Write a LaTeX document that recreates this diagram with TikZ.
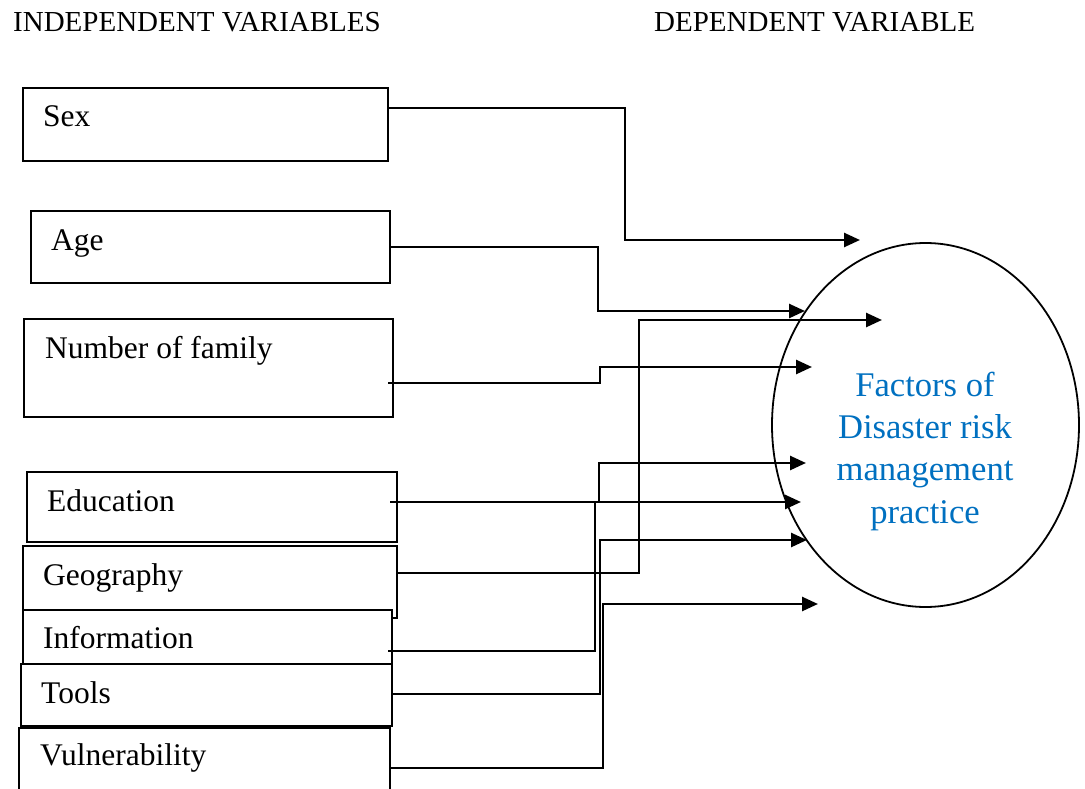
\documentclass[tikz,border=0pt]{standalone}
\usepackage{fontspec}
\setmainfont{Liberation Serif}
\usetikzlibrary{shapes.geometric,arrows.meta}
\definecolor{dvblue}{RGB}{0,112,192}
\tikzset{
  box/.style={draw=black, line width=1.8pt, fill=white, rectangle, anchor=north west, inner sep=0pt},
  lbl/.style={anchor=base west, inner sep=0pt, font=\fontsize{31.5}{36}\selectfont},
  head/.style={anchor=base west, inner sep=0pt, font=\fontsize{29}{33}\selectfont},
  dvtext/.style={anchor=base, inner sep=0pt, text=dvblue, font=\fontsize{34.6}{40}\selectfont},
  conn/.style={line width=2.6pt, -{Triangle[length=16pt,width=14pt]}},
  ell/.style={draw=black, line width=1.8pt, ellipse, minimum width=307pt, minimum height=364pt, inner sep=0pt}
}
\begin{document}
\begin{tikzpicture}[x=1pt,y=-1pt]
\useasboundingbox (0,0) rectangle (1085,789);
\clip (0,0) rectangle (1085,789);

% headings
\node[head] (hind) at (13,32) {INDEPENDENT VARIABLES};
\node[head] (hdep) at (654,32) {DEPENDENT VARIABLE};

% ellipse
\node[ell] (dv) at (925.5,425) {};
\node[dvtext] (dv1) at (925,396) {Factors of};
\node[dvtext] (dv2) at (925,438) {Disaster risk};
\node[dvtext] (dv3) at (925,480) {management};
\node[dvtext] (dv4) at (925,523) {practice};

% boxes
\node[box, minimum width=365pt, minimum height=73pt] (sex) at (22,87) {};
\node[lbl] (sext) at (43,127) {Sex};
\node[box, minimum width=359pt, minimum height=72pt] (age) at (30,210) {};
\node[lbl] (aget) at (51,250) {Age};
\node[box, minimum width=369pt, minimum height=98pt] (num) at (23,318) {};
\node[lbl] (numt) at (45,358) {Number of family};
\node[box, minimum width=370pt, minimum height=70pt] (edu) at (26,471) {};
\node[lbl] (edut) at (47,511) {Education};
\node[box, minimum width=374pt, minimum height=72pt] (geo) at (22,545) {};
\node[lbl] (geot) at (43,585) {Geography};
\node[box, minimum width=369pt, minimum height=64pt] (inf) at (22,609) {};
\node[lbl] (inft) at (43,648) {Information};
\node[box, minimum width=371pt, minimum height=62pt] (tools) at (20,663) {};
\node[lbl] (toolst) at (41,703) {Tools};
\node[box, minimum width=371pt, minimum height=90pt] (vul) at (18,727) {};
\node[lbl] (vult) at (40,765) {Vulnerability};

% arrow tips
\coordinate (tsex) at (860,240);
\coordinate (tage) at (805,311);
\coordinate (tgeo) at (882,320);
\coordinate (tnum) at (812,367);
\coordinate (tinf) at (806,463);
\coordinate (tedu) at (801,502);
\coordinate (ttools) at (807,540);
\coordinate (tvul) at (818,604);

% connectors
\draw[conn] (sex.east |- 0,108) -| (625,240) -- (tsex);
\draw[conn] (age.east |- 0,247) -| (598,311) -- (tage);
\draw[conn] (388,383) -| (600,367) -- (tnum);
\draw[conn] (390,502) -- (tedu);
\draw[conn] (geo.east |- 0,573) -| (639,320) -- (tgeo);
\draw[conn] (388,651) -| (595,502) -- (599,502) |- (tinf);
\draw[conn] (tools.east |- 0,694) -| (600,540) -- (ttools);
\draw[conn] (vul.east |- 0,768) -| (603,604) -- (tvul);
\end{tikzpicture}
\end{document}
